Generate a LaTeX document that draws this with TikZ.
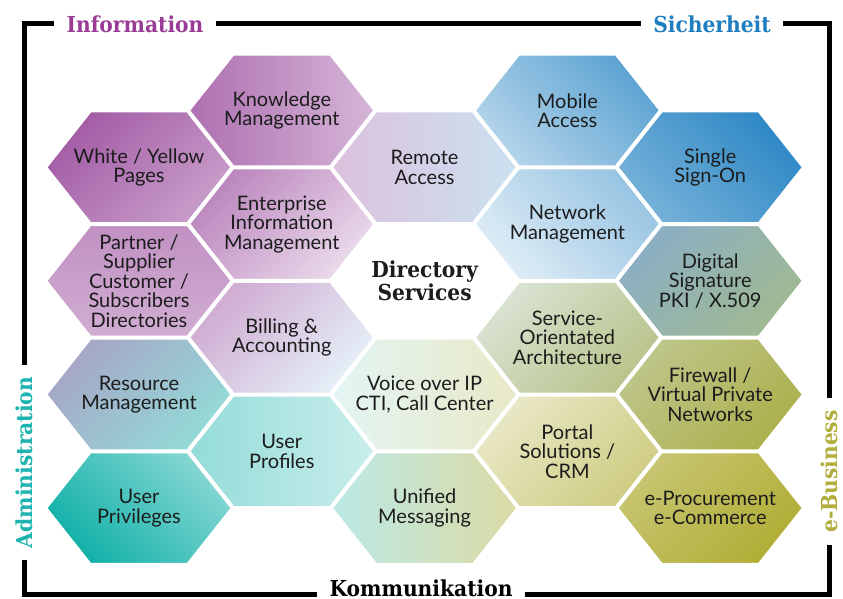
\documentclass[tikz,border=0pt]{standalone}
\usepackage{fontspec}
\setmainfont{Lato}
\newfontfamily\slabfont[FakeStretch=0.92]{DejaVu Serif}

\definecolor{dpurple}{HTML}{A35CA6}
\definecolor{dblue}{HTML}{2D88C5}
\definecolor{dteal}{HTML}{0FB0A8}
\definecolor{dolive}{HTML}{B0AD35}
\definecolor{slate}{HTML}{8BAFC4}
\definecolor{sage}{HTML}{A0B992}
\definecolor{infocol}{HTML}{9A3B96}
\definecolor{sichcol}{HTML}{1F7EC0}
\definecolor{admincol}{HTML}{1DB4AF}
\definecolor{ebizcol}{HTML}{B2AE3E}
\definecolor{hextext}{HTML}{1C1C1C}

\begin{document}
\begin{tikzpicture}[x=1pt, y=-1pt,
        hexagon/.style={insert path={++(-94,0) -- ++(45,-56.8) -- ++(98,0) -- ++(45,56.8) -- ++(-45,56.8) -- ++(-98,0) -- cycle}},
        hexcell/.style n args={3}{rectangle, minimum width=188pt, minimum height=113.6pt, inner sep=0pt,
            align=center, text=hextext, font=\fontsize{20}{19.5}\selectfont,
            path picture={\path[draw=white, line width=4pt, left color=#1, right color=#2, shading angle=#3]
                (path picture bounding box.center) [hexagon];}},
        side/.style={font=\slabfont\bfseries\fontsize{22}{22}\selectfont, inner xsep=12pt, inner ysep=0pt},
        frame/.style={line width=5pt}
    ]
    \useasboundingbox (0,0) rectangle (843,599);

    % Information (top left)
    \node[hexcell={dpurple}{dpurple!60}{45}] (wyp) at (139,167.3) {White / Yellow\\Pages};
    \node[hexcell={dpurple!88}{dpurple!45}{90}] (km) at (281.8,110.5) {Knowledge\\Management};
    \node[hexcell={dpurple!75}{dpurple!22}{45}] (eim) at (281.8,224.1) {Enterprise\\Information\\Management};
    \node[hexcell={dpurple!68}{dpurple!50}{0}] (psc) at (139,280.9) {Partner /\\Supplier\\Customer /\\Subscribers\\Directories};
    \node[hexcell={dpurple!52}{dblue!12}{45}] (billing) at (281.8,337.7) {Billing \&\\Accounting};
    \node[hexcell={dpurple!38}{dblue!25}{90}] (remote) at (424.6,167.3) {Remote\\Access};

    % Sicherheit (top right)
    \node[hexcell={dblue!35}{dblue!78}{135}] (mobile) at (567.4,110.5) {Mobile\\Access};
    \node[hexcell={dblue!65}{dblue}{135}] (sso) at (710.2,167.3) {Single\\Sign-On};
    \node[hexcell={dblue!15}{dblue!50}{135}] (netmgmt) at (567.4,224.1) {Network\\Management};
    \node[hexcell={slate}{sage}{45}] (digsig) at (710.2,280.9) {Digital\\Signature\\PKI / X.509};

    % e-Business (bottom right)
    \node[hexcell={sage!40}{sage!60!dolive!80}{45}] (soa) at (567.4,337.7) {Service-\\Orientated\\Architecture};
    \node[hexcell={sage!50!dolive!75}{sage!25!dolive}{45}] (firewall) at (710.2,394.5) {Firewall /\\Virtual Private\\Networks};
    \node[hexcell={dolive!28}{dolive!62}{45}] (portal) at (567.4,451.3) {Portal\\Solutions /\\CRM};
    \node[hexcell={dolive!70}{dolive}{45}] (eproc) at (710.2,508.1) {e-Procurement\\e-Commerce};

    % Administration / Kommunikation (bottom left)
    \node[hexcell={dpurple!70!dteal!65}{dteal!45}{45}] (resmgmt) at (139,394.5) {Resource\\Management};
    \node[hexcell={dteal!12}{dolive!28}{90}] (voip) at (424.6,394.5) {Voice over IP\\CTI, Call Center};
    \node[hexcell={dteal!45}{dteal!22}{90}] (profiles) at (281.8,451.3) {User\\Profiles};
    \node[hexcell={dteal}{dteal!50}{135}] (privileges) at (139,508.1) {User\\Privileges};
    \node[hexcell={dteal!28}{dolive!45}{90}] (unified) at (424.6,508.1) {Unified\\Messaging};

    % Centre
    \node[font=\slabfont\bfseries\fontsize{22}{21}\selectfont, align=center, text=hextext] (dirsvc) at (424.6,280.9) {Directory\\Services};

    % Frame with the four areas
    \node[side, text=infocol] (info) at (135,24) {Information};
    \node[side, text=sichcol] (sich) at (712,24) {Sicherheit};
    \node[side] (komm) at (421,588) {Kommunikation};
    \node[side, text=admincol, rotate=90] (admin) at (24.5,462.5) {Administration};
    \node[side, text=ebizcol, rotate=90] (ebiz) at (829.5,471.5) {e-Business};

    \draw[frame] (info.west) -| (admin.east);
    \draw[frame] (admin.west) |- ([yshift=-6pt]komm.west);
    \draw[frame] ([yshift=-6pt]komm.east) -| (ebiz.west);
    \draw[frame] (ebiz.east) |- (sich.east);
    \draw[frame] (info.east) -- (sich.west);
\end{tikzpicture}
\end{document}
